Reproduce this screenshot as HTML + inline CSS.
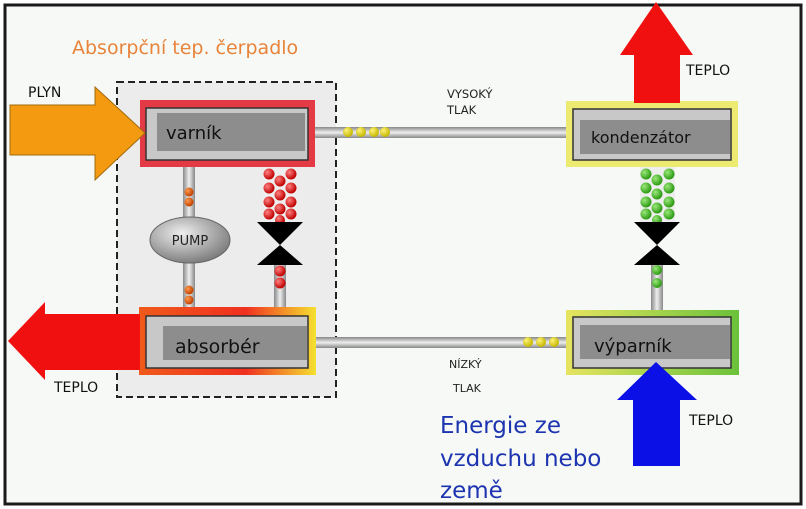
<!DOCTYPE html>
<html><head><meta charset="utf-8">
<style>
html,body{margin:0;padding:0;background:#fff;}
svg{display:block;}
text{font-family:"DejaVu Sans","Liberation Sans",sans-serif;}
</style></head><body>
<svg width="806" height="509" viewBox="0 0 806 509" xmlns="http://www.w3.org/2000/svg">
<defs>
<radialGradient id="ball" cx="35%" cy="35%" r="65%"><stop offset="0" stop-color="#ff8080"/><stop offset="1" stop-color="#c00000"/></radialGradient>
<radialGradient id="gball" cx="35%" cy="35%" r="65%"><stop offset="0" stop-color="#9be87a"/><stop offset="1" stop-color="#2c9a12"/></radialGradient>
<radialGradient id="yball" cx="35%" cy="35%" r="65%"><stop offset="0" stop-color="#fff27a"/><stop offset="1" stop-color="#c6b800"/></radialGradient>
<radialGradient id="oball" cx="35%" cy="35%" r="65%"><stop offset="0" stop-color="#ff9a50"/><stop offset="1" stop-color="#c04000"/></radialGradient>
<linearGradient id="pipeV" x1="0" x2="1"><stop offset="0" stop-color="#888"/><stop offset="0.5" stop-color="#eee"/><stop offset="1" stop-color="#888"/></linearGradient>
<linearGradient id="pipeH" x1="0" x2="0" y1="0" y2="1"><stop offset="0" stop-color="#888"/><stop offset="0.5" stop-color="#eee"/><stop offset="1" stop-color="#888"/></linearGradient>
<linearGradient id="absg" x1="0" x2="1"><stop offset="0" stop-color="#f05a1a"/><stop offset="0.6" stop-color="#f03020"/><stop offset="1" stop-color="#f5e030"/></linearGradient>
<linearGradient id="vypg" x1="0" x2="1"><stop offset="0" stop-color="#e6e460"/><stop offset="1" stop-color="#6ac23a"/></linearGradient>
<radialGradient id="pumpg" cx="40%" cy="35%" r="70%"><stop offset="0" stop-color="#eee"/><stop offset="1" stop-color="#777"/></radialGradient>
</defs>
<rect x="0" y="0" width="806" height="509" fill="#fff"/>
<rect x="5" y="5" width="796" height="499" fill="#f6f9f6" stroke="#1a1a1a" stroke-width="3"/>
<text x="72" y="54" font-size="19" fill="#e8843a">Absorpční tep. čerpadlo</text>

<rect x="117" y="82" width="219" height="315" fill="#ececec" stroke="#222" stroke-width="2" stroke-dasharray="7,4"/>

<rect x="312" y="127" width="258" height="11" fill="url(#pipeH)"/>
<rect x="312" y="337" width="258" height="11" fill="url(#pipeH)"/>
<g fill="url(#yball)"><circle cx="348" cy="132" r="5"/><circle cx="361" cy="132" r="5"/><circle cx="374" cy="132" r="5"/><circle cx="385" cy="132" r="5"/>
<circle cx="528" cy="342" r="5"/><circle cx="541" cy="342" r="5"/><circle cx="554" cy="342" r="5"/></g>

<rect x="183" y="165" width="12" height="145" fill="url(#pipeV)"/>
<g fill="url(#oball)"><circle cx="189" cy="192" r="4.5"/><circle cx="189" cy="202" r="4.5"/><circle cx="189" cy="290" r="4.5"/><circle cx="189" cy="300" r="4.5"/></g>
<ellipse cx="190" cy="240" rx="40" ry="23" fill="url(#pumpg)" stroke="#666"/>
<text x="190" y="245" font-size="13" text-anchor="middle" fill="#222">PUMP</text>

<rect x="263" y="165" width="34" height="57" fill="#eee"/>
<g fill="url(#ball)">
<circle cx="269" cy="174" r="5.5"/><circle cx="291" cy="174" r="5.5"/><circle cx="280" cy="181" r="5.5"/>
<circle cx="269" cy="188" r="5.5"/><circle cx="291" cy="188" r="5.5"/><circle cx="280" cy="195" r="5.5"/>
<circle cx="269" cy="202" r="5.5"/><circle cx="291" cy="202" r="5.5"/><circle cx="280" cy="209" r="5.5"/>
<circle cx="269" cy="214" r="5.5"/><circle cx="291" cy="214" r="5.5"/><circle cx="280" cy="220" r="5"/></g>
<rect x="274" y="262" width="12" height="48" fill="url(#pipeV)"/>
<g fill="url(#ball)"><circle cx="280" cy="271" r="5.5"/><circle cx="280" cy="283" r="5.5"/></g>
<polygon points="257,222 303,222 280,245" fill="#000"/>
<polygon points="257,265 303,265 280,245" fill="#000"/>

<rect x="640" y="165" width="35" height="57" fill="#eee"/>
<g fill="url(#gball)">
<circle cx="646" cy="174" r="5.5"/><circle cx="669" cy="174" r="5.5"/><circle cx="657" cy="180" r="5.5"/>
<circle cx="646" cy="188" r="5.5"/><circle cx="669" cy="188" r="5.5"/><circle cx="657" cy="194" r="5.5"/>
<circle cx="646" cy="202" r="5.5"/><circle cx="669" cy="202" r="5.5"/><circle cx="657" cy="208" r="5.5"/>
<circle cx="646" cy="214" r="5.5"/><circle cx="669" cy="214" r="5.5"/><circle cx="657" cy="220" r="5"/></g>
<rect x="651" y="262" width="12" height="50" fill="url(#pipeV)"/>
<g fill="url(#gball)"><circle cx="657" cy="270" r="5"/><circle cx="657" cy="283" r="5"/></g>
<polygon points="634,222 680,222 657,245" fill="#000"/>
<polygon points="634,265 680,265 657,245" fill="#000"/>

<rect x="140" y="100" width="175" height="67" fill="#e33a45"/>
<rect x="146" y="108" width="162" height="52" fill="#c8c8c8" stroke="#333" stroke-width="1.5"/>
<rect x="157" y="113" width="148" height="38" fill="#8d8d8d"/>
<text x="166" y="139" font-size="18" fill="#111">varník</text>

<rect x="139" y="307" width="177" height="68" fill="url(#absg)"/>
<rect x="146" y="316" width="162" height="52" fill="#c8c8c8" stroke="#333" stroke-width="1.5"/>
<rect x="163" y="326" width="144" height="34" fill="#8d8d8d"/>
<text x="175" y="353" font-size="19" fill="#111">absorbér</text>

<rect x="566" y="101" width="172" height="66" fill="#ecea70"/>
<rect x="573" y="109" width="158" height="51" fill="#c8c8c8" stroke="#333" stroke-width="1.5"/>
<rect x="580" y="120" width="150" height="34" fill="#8d8d8d"/>
<text x="591" y="143" font-size="16" fill="#111">kondenzátor</text>

<rect x="566" y="310" width="173" height="65" fill="url(#vypg)"/>
<rect x="573" y="317" width="158" height="51" fill="#c8c8c8" stroke="#333" stroke-width="1.5"/>
<rect x="580" y="325" width="150" height="34" fill="#8d8d8d"/>
<text x="594" y="352" font-size="18" fill="#111">výparník</text>

<polygon points="10,105 95,105 95,87 145,133 95,180 95,155 10,155" fill="#f39a10" stroke="#a06a10" stroke-width="1"/>
<polygon points="140,314 45,314 45,302 8,341 45,380 45,370 140,370" fill="#f01010"/>
<polygon points="634,103 634,55 620,55 656,2 693,55 680,55 680,103" fill="#f01010"/>
<polygon points="633,466 633,400 617,400 656,362 697,400 680,400 680,466" fill="#0a10e6"/>

<text x="28" y="97" font-size="14" fill="#111">PLYN</text>
<text x="54" y="392" font-size="14" fill="#111">TEPLO</text>
<text x="686" y="75" font-size="14" fill="#111">TEPLO</text>
<text x="689" y="425" font-size="14" fill="#111">TEPLO</text>
<text x="447" y="98" font-size="11.5" fill="#222">VYSOKÝ</text>
<text x="447" y="114" font-size="11.5" fill="#222">TLAK</text>
<text x="449" y="368" font-size="11" fill="#222">NÍZKÝ</text>
<text x="453" y="392" font-size="11" fill="#222">TLAK</text>
<g font-size="23" fill="#1c34b0">
<text x="440" y="433">Energie ze</text>
<text x="440" y="466">vzduchu nebo</text>
<text x="440" y="498">země</text></g>
</svg>
</body></html>
